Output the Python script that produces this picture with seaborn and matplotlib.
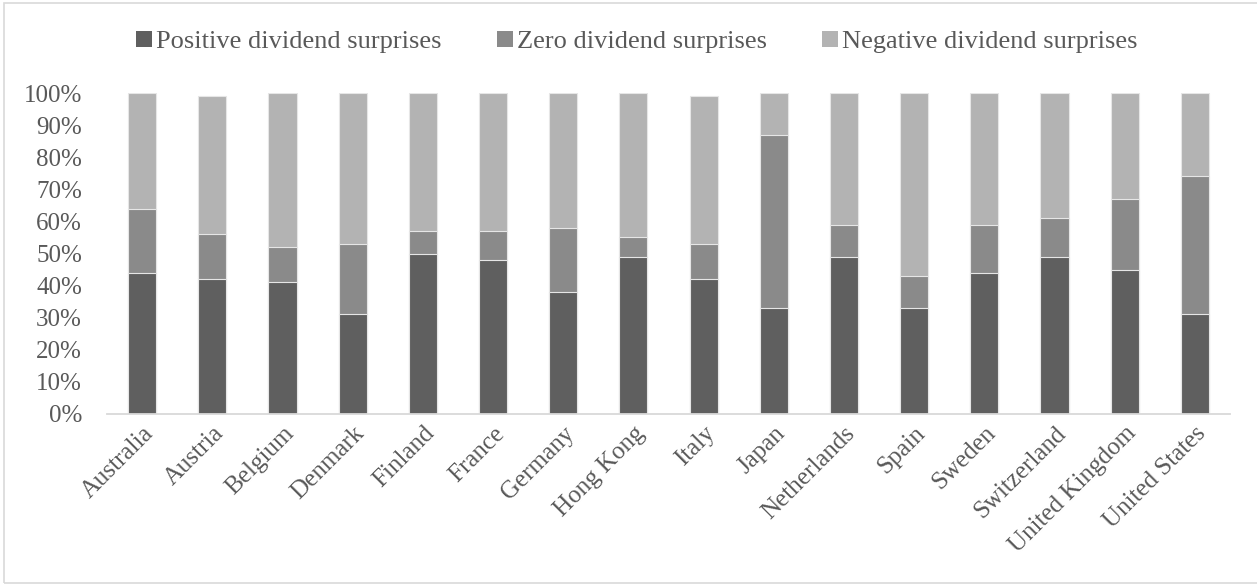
import matplotlib
matplotlib.use("Agg")
import matplotlib.pyplot as plt
from matplotlib.patches import Patch, Rectangle
import numpy as np
import pandas as pd
import seaborn as sns

countries = ["Australia", "Austria", "Belgium", "Denmark", "Finland", "France",
             "Germany", "Hong Kong", "Italy", "Japan", "Netherlands", "Spain",
             "Sweden", "Switzerland", "United Kingdom", "United States"]
positive = [44, 42, 41, 31, 50, 48, 38, 49, 42, 33, 49, 33, 44, 49, 45, 31]
zero = [20, 14, 11, 22, 7, 9, 20, 6, 11, 54, 10, 10, 15, 12, 22, 43]
negative = [36, 43, 48, 47, 43, 43, 42, 45, 46, 13, 41, 57, 41, 39, 33, 26]
series_names = ["Positive dividend surprises", "Zero dividend surprises",
                "Negative dividend surprises"]
series_colors = ["#5f5f5f", "#8a8a8a", "#b3b3b3"]
y_ticks = [0, 10, 20, 30, 40, 50, 60, 70, 80, 90, 100]

sns.set_theme(style="white")
plt.rcParams["font.family"] = ["Liberation Serif", "DejaVu Serif"]
text_color = "#595959"

df = pd.DataFrame({"country": countries, "positive": positive,
                   "zero": zero, "negative": negative})
df["lvl1"] = df["positive"]
df["lvl2"] = df["positive"] + df["zero"]
df["lvl3"] = df["positive"] + df["zero"] + df["negative"]

fig = plt.figure(figsize=(12.57, 5.84), dpi=100)
ax = fig.add_axes([107 / 1257, 1 - 414 / 584, (1230 - 107) / 1257, (414 - 93) / 584])

# stacked bars: draw cumulative totals from the top segment downward
for col, color in zip(["lvl3", "lvl2", "lvl1"], series_colors[::-1]):
    sns.barplot(data=df, x="country", y=col, color=color, width=0.4,
                edgecolor="#e6e6e6", linewidth=0.8, saturation=1, ax=ax)

ax.set_xlim(-0.5, len(countries) - 0.5)
ax.set_ylim(0, 100)
ax.set_yticks(y_ticks)
ax.set_yticklabels([f"{v}%" for v in y_ticks])
ax.set_xlabel("")
ax.set_ylabel("")
ax.tick_params(axis="y", length=0, pad=18, labelsize=18, labelcolor=text_color)
ax.tick_params(axis="x", length=0, pad=6, labelsize=18, labelcolor=text_color)
for lbl in ax.get_xticklabels():
    lbl.set_rotation(45)
    lbl.set_ha("right")
    lbl.set_va("top")
    lbl.set_rotation_mode("anchor")

for side in ["top", "right", "left"]:
    ax.spines[side].set_visible(False)
ax.spines["bottom"].set_color("#d9d9d9")
ax.spines["bottom"].set_linewidth(1.3)
ax.grid(False)

handles = [Patch(facecolor=c, edgecolor="none") for c in series_colors]
fig.legend(handles, series_names, loc="center", bbox_to_anchor=(637 / 1257, 1 - 42 / 584),
           ncol=3, frameon=False, fontsize=19, handlelength=0.6, handleheight=0.6,
           handletextpad=0.15, columnspacing=2.1, labelcolor=text_color)

fig.patches.append(Rectangle((4 / 1257, 1 - 583 / 584), 1.2, (583 - 3) / 584,
                             transform=fig.transFigure, fill=False,
                             edgecolor="#d9d9d9", linewidth=1.2))

fig.savefig("out.png", dpi=100, facecolor="white")
